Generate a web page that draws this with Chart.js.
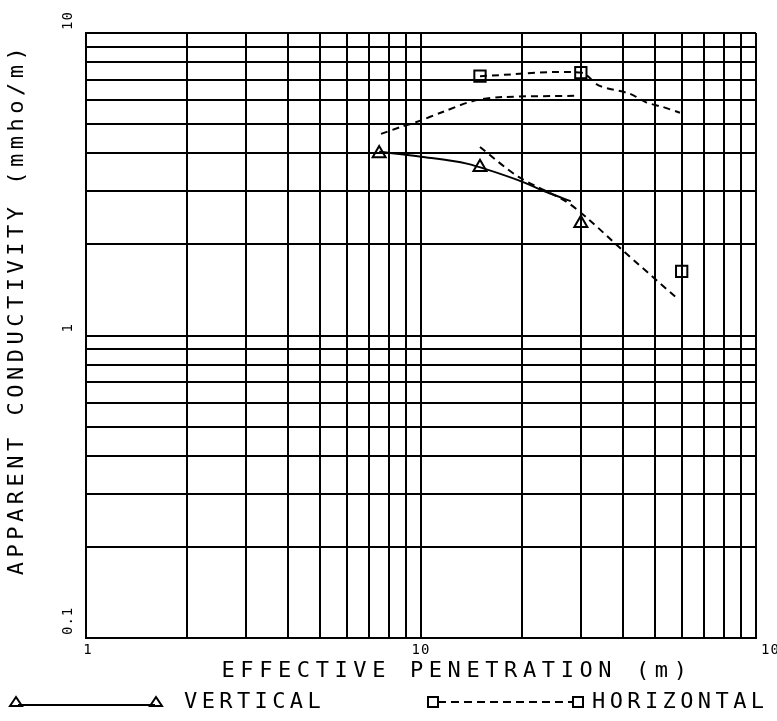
<!DOCTYPE html>
<html><head><meta charset="utf-8">
<script src="https://cdn.jsdelivr.net/npm/chart.js@4.4.1/dist/chart.umd.min.js"></script>
<style>html,body{margin:0;padding:0;background:#fff}#wrap{width:777px;height:721px;position:relative}</style>
</head><body><div id="wrap"><canvas id="c" width="777" height="721"></canvas></div>
<script>
// ---- data ----
const xTickValues = [1,2,3,4,5,6,7,8,9,10,20,30,40,50,60,70,80,90,100];
const yTickValues = [0.1,0.2,0.3,0.4,0.5,0.6,0.7,0.8,0.9,1,2,3,4,5,6,7,8,9,10];
const xLabelValues = [1,10,100];
const xLabelTexts = ['1','10','100'];
const yLabelValues = [0.1,1,10];
const yLabelTexts = ['0.1','1','10'];

const verticalX = [7.5,15,30];
const verticalY = [4.0,3.6,2.35];
const horizontalX = [15,30,60];
const horizontalY = [7.2,7.4,1.63];

const vCurveX = [7.5,10,13.7,19.4,23.7,28];
const vCurveY = [4.05,3.9,3.7,3.27,2.98,2.78];
const lowCurveX = [15,19.5,27,31.8,39,58];
const lowCurveY = [4.2,3.35,2.78,2.41,1.96,1.33];
const upCurveX = [7.6,8.7,9.7,11.6,14.3,17.5,29];
const upCurveY = [4.64,4.89,5.08,5.48,5.96,6.14,6.2];
const hLineX = [15,30,34,42,47,52.6,59.3];
const hLineY = [7.2,7.4,6.7,6.3,5.9,5.7,5.45];

const xTitle = 'EFFECTIVE PENETRATION (m)';
const yTitle = 'APPARENT CONDUCTIVITY (mmho/m)';
const legendTexts = ['VERTICAL','HORIZONTAL'];

const pts = (xs, ys) => xs.map((x, i) => ({x, y: ys[i]}));
const FONT = '"DejaVu Sans Mono", "Liberation Mono", monospace';

const textPlugin = {
  id: 'texts',
  afterDraw(chart) {
    const ctx = chart.ctx;
    const xs = chart.scales.x, ys = chart.scales.y;
    ctx.save();
    ctx.fillStyle = '#000';
    ctx.strokeStyle = '#000';
    // x tick labels
    ctx.font = '14px ' + FONT;
    ctx.letterSpacing = '1px';
    ctx.textBaseline = 'middle';
    xLabelValues.forEach((v, i) => {
      const px = xs.getPixelForValue(v);
      const last = i === xLabelValues.length - 1;
      ctx.textAlign = last ? 'left' : 'center';
      ctx.fillText(xLabelTexts[i], i === 0 ? px + 2 : (last ? px + 5 : px), 650);
    });
    // y tick labels (rotated)
    yLabelValues.forEach((v, i) => {
      const py = ys.getPixelForValue(v);
      ctx.save();
      ctx.translate(68, py);
      ctx.rotate(-Math.PI / 2);
      ctx.textAlign = 'left';
      ctx.textBaseline = 'middle';
      ctx.fillText(yLabelTexts[i], 3, 0);
      ctx.restore();
    });
    // axis titles
    ctx.font = '22px ' + FONT;
    ctx.letterSpacing = '5.6px';
    ctx.textAlign = 'center';
    ctx.textBaseline = 'middle';
    ctx.fillText(xTitle, 457, 671);
    ctx.save();
    ctx.translate(17, 309);
    ctx.rotate(-Math.PI / 2);
    ctx.letterSpacing = '4.5px';
    ctx.fillText(yTitle, 0, 0);
    ctx.restore();
    // legend
    const ly = 702;
    ctx.lineWidth = 2;
    ctx.setLineDash([]);
    ctx.beginPath(); ctx.moveTo(18, ly + 3); ctx.lineTo(155, ly + 3); ctx.stroke();
    const tri = (x, y) => { ctx.beginPath(); ctx.moveTo(x, y - 5); ctx.lineTo(x + 6, y + 4); ctx.lineTo(x - 6, y + 4); ctx.closePath(); ctx.stroke(); };
    const sq = (x, y) => { ctx.strokeRect(x - 5, y - 5, 10, 10); };
    tri(16, ly); tri(156, ly);
    ctx.setLineDash([8, 5]);
    ctx.beginPath(); ctx.moveTo(438, ly); ctx.lineTo(572, ly); ctx.stroke();
    ctx.setLineDash([]);
    sq(433, ly); sq(578, ly);
    ctx.letterSpacing = '4.4px';
    ctx.textAlign = 'left';
    ctx.fillText(legendTexts[0], 184, ly);
    ctx.fillText(legendTexts[1], 592, ly);
    ctx.restore();
  }
};

const lineDs = (data, dash) => ({
  data, showLine: true, borderColor: '#000', borderWidth: 2, borderDash: dash,
  pointRadius: 0, pointHoverRadius: 0, fill: false, tension: 0.3
});

new Chart(document.getElementById('c'), {
  type: 'scatter',
  data: {
    datasets: [
      lineDs(pts(vCurveX, vCurveY), []),
      lineDs(pts(lowCurveX, lowCurveY), [7, 5]),
      lineDs(pts(upCurveX, upCurveY), [7, 5]),
      lineDs(pts(hLineX, hLineY), [7, 5]),
      { label: legendTexts[0], data: pts(verticalX, verticalY), showLine: false,
        pointStyle: 'triangle', pointRadius: 7.5, borderColor: '#000', borderWidth: 2,
        backgroundColor: 'rgba(0,0,0,0)' },
      { label: legendTexts[1], data: pts(horizontalX, horizontalY), showLine: false,
        pointStyle: 'rect', pointRadius: 8, borderColor: '#000', borderWidth: 2,
        backgroundColor: 'rgba(0,0,0,0)' }
    ]
  },
  options: {
    responsive: false,
    animation: false,
    devicePixelRatio: 1,
    layout: { padding: { top: 33, right: 21, left: 0, bottom: 0 } },
    plugins: { legend: { display: false }, tooltip: { enabled: false }, title: { display: false } },
    scales: {
      x: {
        type: 'logarithmic', min: 1, max: 100, position: 'bottom',
        afterBuildTicks: s => { s.ticks = xTickValues.map(v => ({ value: v })); },
        afterFit: s => { s.height = 83; },
        ticks: { display: false, autoSkip: false, callback: () => '' },
        grid: { color: '#000', lineWidth: 2, drawTicks: false },
        border: { display: true, color: '#000', width: 2 }
      },
      y: {
        type: 'logarithmic', min: 0.1, max: 10, position: 'left',
        afterBuildTicks: s => { s.ticks = yTickValues.map(v => ({ value: v })); },
        afterFit: s => { s.width = 86; },
        ticks: { display: false, autoSkip: false, callback: () => '' },
        grid: { color: '#000', lineWidth: 2, drawTicks: false },
        border: { display: true, color: '#000', width: 2 }
      }
    }
  },
  plugins: [textPlugin]
});
</script></body></html>
